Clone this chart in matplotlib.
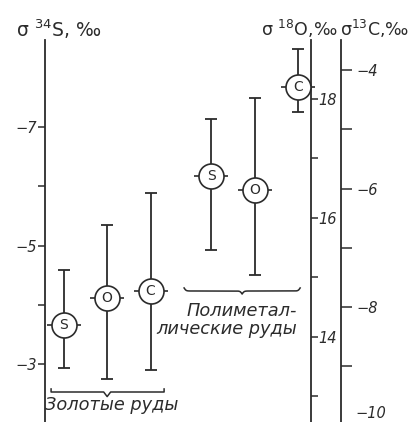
import numpy as np
import matplotlib.pyplot as plt

# изотопный состав: золотые и полиметаллические руды
groups = ['Золотые руды', 'Полиметал-\nлические руды']
letters = ['S', 'O', 'C']

s34_mid = [-3.66, -6.17]
s34_lo = [-4.58, -7.14]
s34_hi = [-2.93, -4.93]

o18_mid = [14.66, 16.47]
o18_lo = [13.29, 15.04]
o18_hi = [15.88, 18.02]

c13_mid = [-7.73, -4.29]
c13_lo = [-9.06, -4.71]
c13_hi = [-6.07, -3.65]

group_x = [0.0, 3.4]
offsets = [-1.0, 0.0, 1.0]

ink = '#2b2b2b'
plt.rcParams['font.family'] = ['DejaVu Sans']

fig = plt.figure(figsize=(4.13, 4.22), dpi=100)
W, H = 413, 422
ax = fig.add_axes([45 / W, 0, 296 / W, 382 / H])
ax_o = ax.twinx()
ax_c = ax.twinx()
ax_o.spines['right'].set_position(('axes', 266 / 296))

for a in (ax, ax_o, ax_c):
    a.patch.set_visible(False)
    for s in ('top', 'bottom'):
        a.spines[s].set_visible(False)
    a.tick_params(axis='x', bottom=False, labelbottom=False)
ax.spines['right'].set_visible(False)
ax_o.spines['left'].set_visible(False)
ax_c.spines['left'].set_visible(False)
for a, side in ((ax, 'left'), (ax_o, 'right'), (ax_c, 'right')):
    a.spines[side].set_color(ink)
    a.spines[side].set_linewidth(1.3)

ax.set_xlim(-1.43, 5.38)
ax.set_ylim(-2.02, -8.47)
ax_o.set_ylim(12.57, 18.99)
ax_c.set_ylim(-9.94, -3.49)

ax.set_yticks([-7, -5, -3])
ax.set_yticks([-6, -4], minor=True)
ax_o.set_yticks([18, 16, 14])
ax_o.set_yticks([17, 15, 13], minor=True)
ax_c.set_yticks([-4, -6, -8])
ax_c.set_yticks([-5, -7, -9], minor=True)

ax.tick_params(axis='y', which='both', direction='out', length=5, width=1.1,
               color=ink, labelcolor=ink, labelsize=10.5, pad=1)
ax_o.tick_params(axis='y', which='both', direction='out', length=5, width=1.1,
                 color=ink, labelcolor=ink, labelsize=10.5, pad=0.5)
ax_c.tick_params(axis='y', which='both', direction='out', length=8, width=1.1,
                 color=ink, labelcolor=ink, labelsize=10.5, pad=3)
for a in (ax, ax_o, ax_c):
    for lab in a.get_yticklabels():
        lab.set_fontstyle('italic')
ax_c.text(1.05, -9.8, '\u221210', transform=ax_c.get_yaxis_transform(),
          fontsize=10.5, style='italic', color=ink, va='center', ha='left')


def draw(a, x, mid, lo, hi, letter):
    a.vlines(x, lo, hi, color=ink, lw=1.3, zorder=2)
    a.plot([x, x], [lo, hi], ls='none', marker='_', ms=8, mew=1.3,
           color=ink, zorder=2)
    a.plot(x, mid, marker='_', ms=25, mew=1.2, color=ink, zorder=3)
    a.plot(x, mid, marker='o', ms=18, mfc='white', mec=ink, mew=1.2, zorder=4)
    a.text(x, mid, letter, ha='center', va='center', fontsize=10,
           color=ink, zorder=5)


for g, gx in enumerate(group_x):
    draw(ax, gx + offsets[0], s34_mid[g], s34_lo[g], s34_hi[g], letters[0])
    draw(ax_o, gx + offsets[1], o18_mid[g], o18_lo[g], o18_hi[g], letters[1])
    draw(ax_c, gx + offsets[2], c13_mid[g], c13_lo[g], c13_hi[g], letters[2])

# скобки под группами
tr = ax.get_xaxis_transform()
gx = group_x[0]
x0, x1 = gx + offsets[0] - 0.29, gx + offsets[2] + 0.31
yb = 30 / 382
ax.plot([x0, x0, gx - 0.08, gx, gx + 0.08, x1, x1],
        [yb + 0.008, yb, yb, yb - 0.012, yb, yb, yb + 0.008],
        color=ink, lw=1.1, transform=tr, clip_on=False)


def brace(a, xa, xb, y, h):
    n = 301
    xs = np.linspace(xa, xb, n)
    half = xs[:n // 2 + 1]
    beta = 120 / (xb - xa)
    yh = 1 / (1 + np.exp(-beta * (half - half[0]))) + \
        1 / (1 + np.exp(-beta * (half - half[-1])))
    ys = np.concatenate((yh, yh[-2::-1]))
    a.plot(xs, y - h * (ys - 1), color=ink, lw=1.1,
           transform=a.get_xaxis_transform(), clip_on=False)


gx = group_x[1]
brace(ax, gx - 1.63, gx + 1.04, 131 / 382, 0.016)

ax.text(group_x[0] - 1.43, 17 / 382, groups[0], transform=tr, fontsize=12.8,
        style='italic', color=ink, ha='left', va='center')
ax.text(group_x[1] + 0.97, 102 / 382, groups[1], transform=tr, fontsize=12.8,
        style='italic', color=ink, ha='right', va='center',
        multialignment='right', linespacing=1.05)

# подписи осей
fig.text(16 / W, 1 - 29 / H, r'$\mathregular{\sigma\ ^{34}S{,}\ ‰}$',
         fontsize=13.5, color=ink, ha='left', va='center')
fig.text(261 / W, 1 - 29 / H, r'$\mathregular{\sigma\ ^{18}O{,}‰}$',
         fontsize=12.5, color=ink, ha='left', va='center')
fig.text(340 / W, 1 - 29 / H, r'$\mathregular{\sigma^{13}C{,}‰}$',
         fontsize=12.5, color=ink, ha='left', va='center')

fig.savefig('out.png', dpi=100)
